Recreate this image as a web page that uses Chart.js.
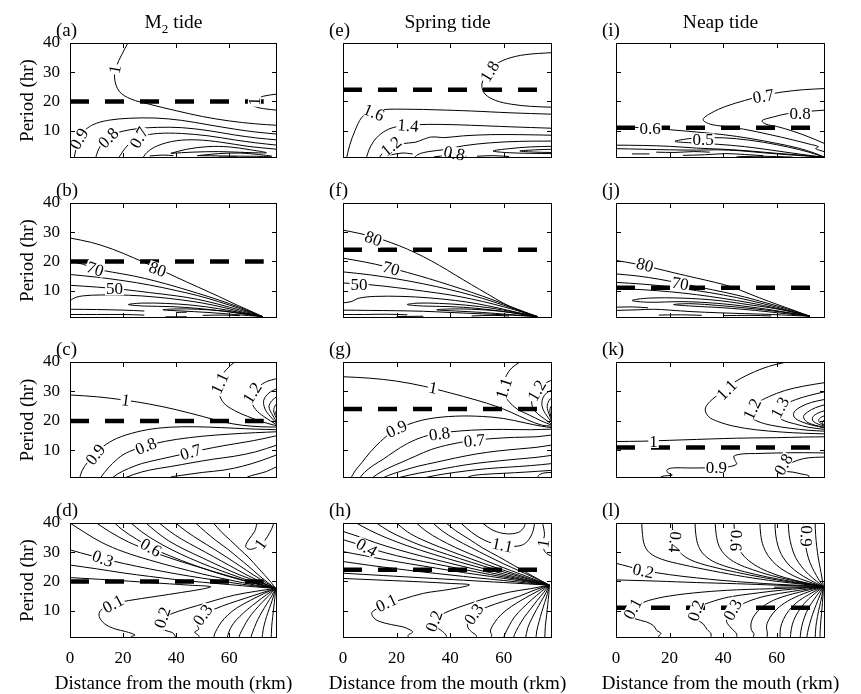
<!DOCTYPE html>
<html>
<head>
<meta charset="utf-8">
<title>Tide contours</title>
<script src="https://cdn.jsdelivr.net/npm/chart.js@4.4.1/dist/chart.umd.min.js"></script>
<style>
  body { margin: 0; background: #fff; }
  #page { position: relative; width: 861px; height: 694px; overflow: hidden; font-family: "Liberation Serif", "Times New Roman", serif; color: #000; }
  #page canvas { position: absolute; left: 0; top: 0; }
  .tag, .head, .xname { position: absolute; line-height: 1; white-space: nowrap; z-index: 2; }
  .tag { font-size: 19px; }
  .head { font-size: 19.5px; transform: translateX(-50%); }
  .xname { font-size: 19px; transform: translateX(-50%); }
  .head sub { font-size: 13px; vertical-align: -5px; line-height: 0; }
</style>
</head>
<body>
<div id="page"></div>
<script>
// panel frames in page pixels
const colLeft = [70, 343, 616];
const colRight = [277, 552, 825];
const rowTop = [43, 203, 362, 523];
const rowBottom = [158, 318, 478, 638];

const tideNames = ['M<sub>2</sub> tide', 'Spring tide', 'Neap tide'];
const panelTags = [['a', 'b', 'c', 'd'], ['e', 'f', 'g', 'h'], ['i', 'j', 'k', 'l']];
const xName = 'Distance from the mouth (rkm)';
const yName = 'Period (hr)';
const dashPeriod = [20, 24, 11];
const dashEndKm = 73;
const xMax = 78, yMin = 0.6, yMax = 40;
const xTickKm = [20, 40, 60];
const yTickHr = [10, 20, 30];

// contour lines: [km, hr] pairs
const contA = [
  [[21.8,40],[19.5,36],[17.5,32],[16.8,28],[18.5,23.5],[23,20.8],[30,19],[40,16.8],[50,14.8],[60,13.3],[70,12.3],[78,11.8]],
  [[78,22.5],[73,21.8],[69.5,20.5],[68,19.5],[69.5,18.3],[73,17.5],[78,17]],
  [[1.5,0],[2.3,4],[3.8,8],[6.5,10.8],[10,12.5],[15,13.6],[22,14.2],[32,14.3],[42,13.5],[52,12],[62,10.5],[70,9.5],[78,8.8]],
  [[9.5,0],[10.5,3],[12.5,6],[15.5,8.3],[20,9.8],[26,10.7],[33,11.1],[42,11],[52,10],[62,8.5],[70,7.5],[78,6.8]],
  [[18,0],[20,3],[23,6],[27,8],[33,9],[42,9],[52,8.2],[62,6.8],[70,5.8],[78,5]],
  [[27,0],[29,2.5],[33,4.8],[40,6.5],[48,6.8],[57,6],[67,4.6],[78,3.6]],
  [[38,2.2],[44,3.6],[52,4.5],[60,4.4],[68,3.4],[74,2.4],[66,2.5],[56,2.8],[46,2.6],[38,2.2]],
  [[48,1.4],[56,2.1],[64,2.3],[71,1.8],[76,1.2],[68,1.2],[58,1.3],[48,1.4]],
  [[30,1.3],[35,1.6],[39,1.4]],
  [[56,0.9],[63,1.0]]
];
const labelsA = [['0.9',3.4,7.2,-60],['0.8',14.5,7.5,-45],['0.7',26,7.6,-60],['1',16.9,31,-80],['1',69.5,20,-88]];

const contB = [
  [[0,28],[8,26.5],[16,24.2],[24,21.2],[32,18],[40,14.6],[48,11.3],[56,8],[63,5],[68,3],[72.5,1.1]],
  [[0,20],[5,19],[9.5,17.5],[16,16.3],[24,15],[32,13.3],[40,11.3],[48,9.1],[56,6.8],[64,4.2],[72.5,1.1]],
  [[0,15.5],[10,14.6],[20,13.4],[30,11.9],[40,10],[48,8.3],[56,6.2],[64,3.8],[72.5,1.1]],
  [[0,11.8],[10,11.2],[20,10.4],[30,9.3],[40,8.2],[48,7],[56,5.3],[64,3.3],[72.5,1.1]],
  [[0,6.5],[2,7.6],[5,8.2],[12,8.5],[22,8.4],[32,7.8],[42,6.8],[50,5.7],[58,4.2],[65,2.6],[72.5,1.1]],
  [[72.5,1.1],[64,2.5],[56,3.8],[46,5],[36,5.6],[27,5.7],[22,5.2],[28,4.7],[38,4.5],[48,3.9],[58,2.9],[66,1.9],[72.5,1.1]],
  [[72.5,1.1],[66,2],[58,3],[48,3.6],[40,3.7],[35,3.4],[42,3],[52,2.5],[62,1.8],[72.5,1.1]],
  [[0,3.6],[10,3.5],[20,3.3],[28,3]],
  [[0,1.8],[10,1.8],[20,1.8],[28,1.6]],
  [[40,2.5],[44,2.6]],
  [[50,1.5],[58,1.6],[64,1.4]],
  [[36,1],[44,1]]
];
const labelsB = [['80',33,17.3,20],['70',9.5,17.4,18],['50',16.8,10.6,0]];

const contC = [
  [[0,28.8],[10,28.2],[21,27],[30,25.7],[40,23.8],[50,21.5],[58,19.6],[65,18.5],[72,18],[78,17.9]],
  [[62,40],[59,37.5],[57,35],[56,32],[56.3,29],[58,26],[62,23.5],[67,21.5],[72,19.8],[78,18.3]],
  [[78,34.4],[74,33.3],[71,31.5],[69,29],[68.5,26.5],[70,23.8],[73,21.5],[78,18.6]],
  [[78,31],[75,29.5],[73,27],[73.5,24],[75.5,21.5],[78,19]],
  [[78,28.3],[76,26.8],[75,24.8],[76,22.5],[78,19.5]],
  [[78,26],[77,24.6],[76.8,23],[78,20.5]],
  [[78,24],[77.5,22.8],[78,21.3]],
  [[3.5,0],[4.5,3],[6.5,5.8],[9,8.5],[12.5,11.3],[17.5,14],[25,16.2],[33,17.5],[42,18],[52,17.9],[62,17.5],[70,17.2],[78,17]],
  [[11,0],[13,2.5],[16,5.5],[20,8.5],[25,10.5],[32,12.3],[40,13.7],[50,14.8],[60,15.5],[70,16],[78,16.3]],
  [[15,0],[18,2],[22,3.8],[27,5.5],[34,7],[42,8.6],[50,10.2],[58,11.6],[66,12.8],[72,13.8],[78,15]],
  [[19,0],[24,1.8],[30,3.3],[38,4.5],[46,5.8],[54,7],[62,8],[70,9.5],[78,11.8]],
  [[37,0],[38,0.9],[42,1.5],[50,2.5],[58,3.3],[65,4.6],[72,6.5],[78,8.5]],
  [[66,0],[67,1],[70,1.8],[74,2.8],[78,4.5]]
];
const labelsC = [['1',21,27,8],['1.1',56.4,32.8,-65],['1.2',68.7,29.5,-58],['0.9',9.6,8.6,-52],['0.8',28.6,11.4,-22],['0.7',45.5,9.4,-18]];

const contD = [
  [[0,21.3],[15,20.5],[30,19.6],[45,18.7],[53,18.2],[50,17.4],[42,16.2],[32,14.8],[22,13.4],[15,12],[11.5,10],[11,8],[13,5.5],[17,3.7],[21,2.8],[24.5,1.6],[23,1],[25,0]],
  [[0,25.6],[10,24.3],[20,22.9],[30,21.7],[40,20.6],[50,19.7],[60,18.9],[70,18.1],[77.5,17.6]],
  [[0,30.8],[8,28.8],[16,27],[25,25.2],[35,23.4],[45,21.8],[55,20.4],[65,19],[72,18.2],[77.5,17.6]],
  [[0,40],[6,36.5],[12,33.3],[20,30.2],[30,27.3],[40,24.8],[50,22.5],[60,20.5],[70,18.7],[77.5,17.6]],
  [[10,40],[15,37],[22,33.5],[30,30.5],[40,27.3],[50,24.5],[60,21.8],[70,19.3],[77.5,17.6]],
  [[16.8,40],[20,37.5],[25,34.5],[30.5,31.6],[38,28.6],[46,25.8],[55,23],[64,20.6],[72,18.7],[77.5,17.6]],
  [[23,40],[27,37],[32,34],[38,31],[45,28],[53,25],[61,22.3],[69,19.8],[77.5,17.6]],
  [[28.6,40],[32.5,37],[37,34],[43,31],[50,28],[57,25],[64,22.2],[71,19.8],[77.5,17.6]],
  [[33.6,40],[37.5,37.2],[42,34.5],[48,31.5],[54,28.5],[60,25.5],[66,22.5],[72,19.8],[77.5,17.6]],
  [[39.8,40],[44,37],[49,34],[54,31.2],[59,28.3],[64,25.3],[69,22.3],[74,19.5],[77.5,17.6]],
  [[47.3,40],[51,37],[55,34],[59.5,31],[63.5,28],[67.5,25],[71,22.2],[74.5,19.6],[77.5,17.6]],
  [[54,40],[57,37],[60.5,34],[64,31],[67.5,28],[70.5,25],[73.5,22],[75.8,19.6],[77.5,17.6]],
  [[70.5,40],[69.5,37],[67.5,34.5],[66.2,32],[67.5,31],[70,31.5],[72.5,33],[74.5,35.5],[76,38],[76.8,40]],
  [[77.5,17.6],[70,16.6],[62,15.3],[55,13.6],[48,11.7],[41,9.8],[36,8],[33,6.2],[33.5,4.5],[35.5,3.3],[38.5,2.5],[39.5,1.5],[40,0]],
  [[77.5,17.6],[72,16],[66,14.2],[60,12.4],[54.5,10.5],[50.5,8.6],[48.5,6.8],[48,5],[48.5,3.6],[47,2.6],[48.5,1.4],[48.5,0]],
  [[77.5,17.6],[73,15.8],[68,13.5],[63,11],[59.5,8.5],[57,6],[55.5,3.8],[54.5,2],[54,0]],
  [[77.5,17.6],[74,15.4],[70.5,13],[67,10.5],[64,8],[61.5,5.5],[60,3],[59,0]],
  [[77.5,17.6],[75,15.2],[72.3,12.7],[69.6,10],[67.3,7.3],[65.5,4.5],[64,1.8],[63.5,0]],
  [[77.5,17.6],[76,15],[74.3,12.5],[72.5,9.8],[70.8,7],[69.5,4.2],[68.5,1.8],[68,0]],
  [[77.5,17.6],[76.7,15],[75.7,12.2],[74.6,9.4],[73.6,6.5],[72.8,3.5],[72.3,0]],
  [[77.5,17.6],[77.2,14.5],[76.8,11.2],[76.4,8],[76,4.5],[75.8,0]]
];
const labelsD = [['0.3',12.4,27.8,20],['0.6',30.5,31.6,30],['1',71.8,32.8,-55],['0.1',16.2,12.3,-28],['0.2',34.8,7.6,-72],['0.3',50,8.5,-55]];

const contE = [
  [[78,36.7],[68,36],[61,34.5],[56,32],[53,28.5],[51.8,25.5],[53,22.5],[57,20.3],[63,19],[70,18.3],[78,18]],
  [[1.2,0],[2.5,5],[4.5,10],[7,14.5],[10,16.3],[15,17.2],[25,17.3],[35,17.1],[48,16.7],[62,16.1],[78,15.6]],
  [[8.5,0],[10,4],[12.5,7.5],[16,10],[20,11.3],[27,12],[37,12.1],[48,11.8],[62,11.3],[78,10.8]],
  [[13,0],[15,2.5],[18,4.5],[22,5.5],[27,6],[30,7],[33,7.8],[38,7.6],[45,8.2],[55,8.6],[66,8.6],[78,8.4]],
  [[26,0],[28,1.8],[32,2.8],[38,3.5],[45,4.8],[55,5.8],[66,6.3],[78,6.4]],
  [[78,4.6],[70,4.4],[62,3.8],[56,3],[62,2.4],[70,2.2],[78,2.1]],
  [[78,3.6],[72,3.4],[66,3],[72,2.6],[78,2.5]],
  [[17,1.5],[22,2.3],[26,2]],
  [[34,1],[40,1.5],[46,1.2]],
  [[50,1.2],[56,1.4],[62,1.1]]
];
const labelsE = [['1.8',54.8,30.3,-58],['1.6',11.5,16.2,22],['1.4',24.3,11.7,5],['1.2',18,4.6,-40],['0.8',41.5,2.2,12]];

const contF = [
  [[0,30.7],[6,29.6],[12,28.2],[18,26.4],[24,24.2],[30,21.6],[36,18.6],[42,15.3],[48,12],[54,8.8],[60,5.6],[66,3],[72.5,1.1]],
  [[0,21.1],[8,19.8],[16,18.2],[24,16.2],[32,14.1],[40,11.8],[48,9.4],[56,6.8],[64,4],[72.5,1.1]],
  [[0,16.4],[10,15.4],[20,14],[30,12.3],[40,10.3],[48,8.4],[56,6.2],[64,3.7],[72.5,1.1]],
  [[0,12.6],[10,12],[20,11],[30,9.8],[40,8.5],[48,7.1],[56,5.4],[64,3.4],[72.5,1.1]],
  [[0,5.8],[3,6.2],[6,7.4],[12,8],[22,8],[32,7.5],[42,6.6],[50,5.5],[58,4],[65,2.5],[72.5,1.1]],
  [[72.5,1.1],[64,2.6],[56,3.9],[46,5],[36,5.6],[28,5.7],[24,5.2],[30,4.7],[40,4.5],[50,3.9],[60,2.8],[72.5,1.1]],
  [[72.5,1.1],[66,2],[58,3],[48,3.6],[40,3.7],[35,3.4],[42,3],[52,2.5],[62,1.8],[72.5,1.1]],
  [[0,3.3],[10,3.2],[20,3.1],[30,2.9],[40,2.5],[50,2.1],[60,1.7],[72.5,1.1]],
  [[0,1.8],[8,1.8],[16,1.9],[24,1.7]],
  [[20,1.1],[30,1.2]],
  [[48,1.3],[56,1.5],[62,1.3]]
];
const labelsF = [['80',11.3,27.8,20],['70',18,17.6,15],['50',6,12.1,0]];

const contG = [
  [[0,35],[10,34.5],[20,33.5],[30,31.8],[40,29.5],[50,27],[57,25],[63,22.8],[69,20.3],[74,18.6],[78,18.2]],
  [[66,40],[63,38],[61,35.5],[60,32.5],[60.2,29],[62,26.5],[65,24],[69.5,22],[74,20],[78,18.5]],
  [[78,33.9],[75,32.5],[72.5,30.5],[70.8,28],[70.5,25.5],[72,23],[75,20.8],[78,18.8]],
  [[78,30.5],[76,29.5],[74.5,27.5],[74.3,25],[75.5,22.5],[78,19.3]],
  [[78,28],[76.8,26.8],[76.2,24.8],[76.8,22.5],[78,19.7]],
  [[78,25.5],[77.3,24.2],[77.3,22.5],[78,20.3]],
  [[78,23.5],[77.7,22.3],[78,21]],
  [[2.6,0],[4.5,3],[7,5.8],[10,9.2],[14,13],[19,16.6],[25,19],[32,20.7],[42,21.6],[52,21.5],[60,20.8],[68,19.3],[74,18.2],[78,17.7]],
  [[5.7,0],[8,2.5],[11.5,5],[15,7],[19,9.5],[24,12.3],[30,14.6],[36,15.8],[44,16.6],[52,17],[60,17.1],[70,17],[78,17.2]],
  [[10,0],[13,2],[17,4],[22,6],[27,8],[33,10.3],[40,12],[48,13.3],[56,14],[64,14.4],[72,14.6],[78,15.2]],
  [[13.5,0],[17,1.5],[22,3],[28,4.6],[35,6],[42,7.4],[50,8.8],[58,9.8],[66,10.5],[72,11],[78,11.8]],
  [[17.5,0],[22,1],[28,2.2],[35,3.3],[42,4.5],[50,5.6],[58,6.4],[66,7.1],[72,7.6],[78,8.3]],
  [[27.5,0],[32,1],[38,2],[46,3],[54,3.8],[62,4.3],[70,4.8],[78,5.5]],
  [[45,0],[47.5,1.2],[52,1.8],[60,2.2],[68,2.6],[78,3.2]],
  [[72.6,0],[73,1.5],[75,2.3],[78,2.5]]
];
const labelsG = [['1',33.6,31.2,10],['1.1',60,31,-72],['1.2',72.3,30.3,-60],['0.9',20,17.3,-25],['0.8',36,15.6,-8],['0.7',49,13.3,-5]];

const contH = [
  [[0,21],[15,20.4],[30,19.8],[40,19.3],[47.2,18.8],[40,17.3],[30,15.9],[22,13.8],[15,11.8],[11.5,10],[10.7,9],[11.5,7.5],[13.5,6.3],[18,5.2],[22.4,4.4],[25,3.4],[26,2.6],[24.3,1.5],[25,0]],
  [[0,22.8],[15,22],[30,21.2],[45,20.4],[60,19.6],[77,18.7]],
  [[0,26.8],[10,25.5],[20,24.3],[30,23.2],[40,22.2],[50,21.2],[60,20.3],[70,19.3],[77,18.7]],
  [[0,30.2],[8,28.8],[16,27.4],[25,26],[35,24.5],[45,23],[55,21.7],[65,20.3],[77,18.7]],
  [[0,34.3],[6,32.6],[12,30.8],[20,28.8],[30,26.8],[40,25],[50,23.2],[60,21.5],[70,19.9],[77,18.7]],
  [[0,37.1],[6,35.3],[12,33.3],[20,31],[30,28.5],[40,26.2],[50,24],[60,22],[70,20],[77,18.7]],
  [[5,40],[10,37.5],[16,35],[24,32.2],[34,29.2],[44,26.5],[54,24],[64,21.6],[72,19.8],[77,18.7]],
  [[12.5,40],[17,37.3],[23,34.6],[30,32],[39,29.2],[48,26.5],[57,24],[66,21.6],[73,19.8],[77,18.7]],
  [[20,40],[24,37],[29,34.5],[36,31.8],[44,29],[52,26.3],[60,23.8],[68,21.4],[74,19.6],[77,18.7]],
  [[27.4,40],[31,37.2],[36,34.4],[42,31.6],[49,28.8],[56,26.1],[63,23.6],[70,21.2],[77,18.7]],
  [[33.6,40],[37,37.3],[42,34.4],[48,31.5],[54,28.7],[60,26],[66,23.5],[72,21],[77,18.7]],
  [[38.5,40],[42,37.4],[47,34.5],[52,31.5],[58,28.5],[63.5,25.6],[68.5,23],[73,20.7],[77,18.7]],
  [[44,40],[48,36.8],[53,34],[58,32.6],[63,32],[67,32.5],[69.5,34.5],[71,37.5],[71.5,40]],
  [[52,40],[56,37.5],[61,36.3],[65.5,36.8],[67.5,38.5],[68,40]],
  [[74.5,40],[75.2,36],[74.5,33],[75.5,30],[78,28.5]],
  [[77,18.7],[70,17.5],[62,16.3],[54,14.4],[46,12],[40,10],[35.5,8],[33.6,6.7],[34,4.8],[36.5,3.3],[38.5,1.5],[38.5,0]],
  [[77,18.7],[72,17.2],[66,15],[60,13.2],[54,11.3],[50,9.5],[47,7.2],[46.5,4.5],[48,2.7],[49.7,1.5],[49.7,0]],
  [[77,18.7],[73,16.8],[68,14.3],[63,11.5],[59,8.6],[56.5,5.8],[55,3],[55.5,1.5],[54.5,0]],
  [[77,18.7],[74,16.5],[70.5,13.8],[67,10.8],[64,7.8],[62,4.8],[60.5,2],[59.6,0]],
  [[77,18.7],[75,16.3],[72.5,13.5],[70,10.5],[67.5,7.5],[65.5,4.5],[64,1.8],[63.5,0]],
  [[77,18.7],[75.7,16],[74,13.2],[72.2,10.3],[70.5,7.3],[69,4.2],[68,0]],
  [[77,18.7],[76.3,15.8],[75.3,12.8],[74.2,9.6],[73.2,6.3],[72.3,3],[72,0]],
  [[77,18.7],[76.8,15.5],[76.4,12],[76,8.5],[75.5,4.5],[75.3,0]]
];
const labelsH = [['0.4',8.8,31.6,30],['1.1',59.5,32.4,12],['1',74.8,33,-80],['0.1',16.2,12.6,-25],['0.2',34,6.4,-70],['0.3',48.8,8.8,-55]];

const contI = [
  [[78,24.4],[70,24],[62,23.2],[55,22],[48,20.3],[41,18.3],[35.5,16],[32.5,13.8],[34.5,12.4],[38,11.7],[47.5,10.5],[57.5,8.6],[66,6.8],[72,5.4],[75.5,4.5],[74.5,3.8],[78,2.7]],
  [[78,17],[72,16.6],[64,15.8],[58.5,14.6],[54.5,13.4],[56,12.2],[60,11.4],[66,9.8],[72,7.8],[78,5.5]],
  [[0,11.3],[10,11],[20,10.3],[30,9.5],[40,8.6],[50,7.3],[60,5.6],[68,4],[74,2.3],[78,0.8]],
  [[78,0.8],[72,2.6],[65,4.2],[55,6],[45,7.2],[36,7.6],[28,7.3],[22,6.3],[28,5.8],[38,5.3],[48,4.5],[58,3.3],[68,2],[78,0.8]],
  [[0,5],[10,4.9],[20,4.6],[30,4],[40,3.6],[50,3],[60,2.2],[70,1.5],[78,0.8]],
  [[0,3.8],[10,3.6],[20,3.4],[30,3.3],[38,3.4],[46,3.1],[56,2.3],[66,1.6],[78,0.8]],
  [[6,2],[12.5,2]],
  [[15,2.6],[22,2.5],[29,2.8],[35,2.6]],
  [[25,1.5],[33,1.7],[41,2.1],[48,1.8],[55,1.4]],
  [[45,1],[52,1.2],[60,1.1],[66,0.9]]
];
const labelsI = [['0.7',55,21.8,-10],['0.8',68.7,16,0],['0.6',12.7,10.8,0],['0.5',32.5,6.8,0]];

const contJ = [
  [[0,20.3],[7,19.2],[14,17.8],[22,16],[30,14.3],[37,12.8],[43,11.3],[50,8.8],[57,6.3],[64,4],[72.4,1.2]],
  [[0,15.7],[8,15],[16,13.9],[24,12.5],[32,11],[40,9.5],[48,7.8],[56,5.8],[64,3.7],[72.4,1.2]],
  [[0,12.8],[10,12.2],[20,11.3],[30,10],[40,8.5],[50,6.6],[60,4.3],[72.4,1.2]],
  [[0,11],[3,10.6],[10,10.3],[20,9.6],[30,8.6],[40,7.3],[50,5.8],[60,3.9],[72.4,1.2]],
  [[72.4,1.2],[62,3.4],[50,5.1],[38,6.6],[25,7.4],[12,7.4],[6,6.6],[12,6],[25,6.2],[38,5.6],[50,4.4],[62,2.8],[72.4,1.2]],
  [[72.4,1.2],[62,2.6],[50,3.9],[38,4.9],[28,5.5],[21.5,5.2],[28,4.7],[40,4.1],[52,3.2],[62,2.2],[72.4,1.2]],
  [[0,4.3],[6,4.4],[12,4.1]],
  [[0,3.2],[8,3.4],[14,3.6],[20,3.3],[28,2.8],[38,2.4],[48,2.1],[58,1.8],[72.4,1.2]],
  [[16,1.6],[24,1.7],[32,1.5]],
  [[40,1.4],[50,1.5],[58,1.3]]
];
const labelsJ = [['80',10.8,18.8,15],['70',24,12.4,10]];

const contK = [
  [[63.7,40],[57,38.5],[50,36],[44,33],[39,29.5],[35,26.5],[33.3,24],[34.5,21.5],[38,19.8],[44,18.2],[52,17],[62,16.2],[70,15.8],[78,15.6]],
  [[78,33],[70,31.8],[63,30.3],[57,28.2],[52.5,26],[49.5,23.5],[50,21.5],[53,19.8],[58,18.5],[65,17.5],[72,16.8],[78,16.5]],
  [[78,29.9],[72,28.6],[67,27.2],[63,25.5],[60.5,23.5],[60.5,21.5],[63,20],[67.5,18.8],[72,17.8],[78,17.1]],
  [[78,27.3],[73,26.3],[69,24.8],[66.5,23],[66.5,21.3],[69,19.8],[73,18.6],[78,17.6]],
  [[78,25.5],[74.5,24.5],[71.5,23],[70,21.5],[71,19.8],[74,18.6],[78,17.8]],
  [[78,23.5],[75.5,22.7],[73.5,21.4],[73.5,20],[75.5,18.9],[78,18.1]],
  [[78,21.8],[76.5,21.2],[75.6,20.2],[76.5,19.1],[78,18.4]],
  [[78,20.5],[77.2,19.9],[77,19.2],[78,18.6]],
  [[0,13],[10,13.1],[20,13.4],[30,13.7],[40,14],[50,14.2],[60,14.3],[70,14.5],[78,14.6]],
  [[78,9.1],[70,9.2],[60,9.1],[52,8.9],[47.5,8.8],[44,8],[44.5,6.5],[45,5.3],[42,4.4],[36,4.1],[28,4],[21,4],[19,3.3],[19.5,2.3],[21,1.6],[17,1.1],[16,0]],
  [[78,7.7],[74,7.6],[70,7.2],[66,6],[63.5,4.9],[61,3.6],[62,3],[66,2.6],[69,2],[72,1.3],[71,0]]
];
const labelsK = [['1.1',41.3,30.5,-45],['1.2',50.8,24,-65],['1.3',61.2,24.5,-62],['1',14,13,0],['0.9',37.5,4.1,0],['0.8',62.5,5.2,-60]];

const contL = [
  [[9.6,40],[9.9,36],[10.6,32.5],[12.5,29.8],[17,27.6],[25,25.7],[36,23.6],[48,21.6],[60,20],[70,19],[77.4,18.2]],
  [[21,40],[21.3,36],[22.2,32.5],[24,29.8],[28,27.3],[35,25.2],[45,23.1],[55,21.3],[65,19.8],[77.4,18.2]],
  [[29.5,40],[29.8,36],[30.8,32],[33,29],[37,26.5],[44,24.3],[52,22.4],[61,20.7],[70,19.3],[77.4,18.2]],
  [[37,40],[37.4,36],[38.5,32],[41,28.8],[45,26.2],[51,24],[58,22],[66,20.3],[77.4,18.2]],
  [[44,40],[44.4,36],[45.5,32],[47.8,28.6],[51.5,25.8],[56.5,23.4],[63,21.3],[70,19.7],[77.4,18.2]],
  [[53.7,40],[54,36],[55,32],[57,28.5],[60,25.5],[64,23],[69,20.8],[77.4,18.2]],
  [[59.3,40],[59.6,36],[60.5,32],[62.3,28.3],[65,25.2],[68.5,22.6],[72.5,20.4],[77.4,18.2]],
  [[64.3,40],[64.6,36],[65.5,32],[67,28.2],[69.3,25],[72,22.3],[74.8,20.1],[77.4,18.2]],
  [[70,40],[70.2,36],[70.8,32],[71.8,28],[73.2,24.8],[74.8,22],[76.2,19.8],[77.4,18.2]],
  [[74.3,40],[74.5,36],[74.9,32],[75.5,28],[76.2,24.5],[76.8,21.5],[77.4,18.2]],
  [[0,26.2],[5,25],[10,23.8],[20,22.3],[30,21.2],[40,20.3],[50,19.6],[60,19],[70,18.6],[77.4,18.2]],
  [[0,20.5],[15,20.1],[30,19.6],[45,19.2],[60,18.7],[77.4,18.2]],
  [[59,18],[68,18.1],[77.4,18.2]],
  [[77.4,18.2],[62,17.6],[45,17.1],[32,16.3],[20,15],[12,13.4],[8,11.8],[5.5,10],[4.6,8.5],[7,7.2],[11.4,6.1],[14,4.8],[15.2,3.2],[16.8,2.2],[16,1.3],[16.4,0]],
  [[77.4,18.2],[62,17],[50,15.7],[42,14.6],[35,12.8],[30,10.7],[28.8,8.5],[30,7],[32.5,5.5],[34,3.5],[35.5,2],[35,0]],
  [[77.4,18.2],[66,16.6],[56,15],[49,13],[44.5,10.7],[42,8.5],[41.3,6.2],[43,4],[45,2],[45,0]],
  [[77.4,18.2],[68,16.2],[60,14],[55,11.5],[52,8.8],[50.5,6],[50.5,3.5],[51.5,1.8],[50.6,0]],
  [[77.4,18.2],[70,15.8],[64,13.2],[60,10.5],[57.5,7.6],[56.2,4.8],[56.5,2],[56.2,0]],
  [[77.4,18.2],[72,15.5],[67.5,12.8],[64.5,10],[62.5,7],[61.4,4],[61.2,0]],
  [[77.4,18.2],[73.5,15.3],[70.3,12.5],[68,9.6],[66.3,6.6],[65.4,3.5],[65,0]],
  [[77.4,18.2],[75,15.2],[72.8,12.3],[71,9.3],[69.8,6.2],[69,3],[68.7,0]],
  [[77.4,18.2],[76,15],[74.7,12],[73.4,8.8],[72.3,5.5],[71.5,2.5],[71.1,0]],
  [[77.4,18.2],[76.8,14.8],[76,11.5],[75.2,8],[74.6,4.5],[74.3,0]],
  [[77.4,18.2],[77.2,14.5],[76.9,11],[76.5,7],[76.2,3],[76.1,0]]
];
const labelsL = [['0.4',22,33.5,95],['0.6',44.8,34,92],['0.9',71,35.5,92],['0.2',10.2,23.6,12],['0.1',6.2,10.6,-62],['0.2',29.8,10,-72],['0.3',43.5,10.3,-62]];

// [column][row]
const grid = [
  [[contA, labelsA], [contB, labelsB], [contC, labelsC], [contD, labelsD]],
  [[contE, labelsE], [contF, labelsF], [contG, labelsG], [contH, labelsH]],
  [[contI, labelsI], [contJ, labelsJ], [contK, labelsK], [contL, labelsL]]
];

const serif = '"Liberation Serif", "Times New Roman", serif';

// inline contour labels, drawn over a white patch so the line looks broken
const contourLabels = {
  id: 'contourLabels',
  afterDatasetsDraw(chart, args, opts) {
    const ctx = chart.ctx, x = chart.scales.x, y = chart.scales.y;
    ctx.save();
    ctx.font = '17px ' + serif;
    ctx.textAlign = 'center';
    ctx.textBaseline = 'middle';
    for (const [txt, vx, vy, deg] of opts.items) {
      ctx.save();
      ctx.translate(x.getPixelForValue(vx), y.getPixelForValue(vy));
      ctx.rotate(deg * Math.PI / 180);
      const w = ctx.measureText(txt).width;
      ctx.fillStyle = '#fff';
      ctx.fillRect(-w / 2 - 1, -6.5, w + 2, 13);
      ctx.fillStyle = '#000';
      ctx.fillText(txt, 0, 1);
      ctx.restore();
    }
    ctx.restore();
  }
};

// box around the plot with inward ticks on all sides
const frame = {
  id: 'frame',
  afterDraw(chart) {
    const {ctx, chartArea: a} = chart;
    const x = chart.scales.x, y = chart.scales.y;
    ctx.save();
    ctx.strokeStyle = '#000';
    ctx.lineWidth = 1;
    ctx.strokeRect(a.left + 0.5, a.top + 0.5, a.right - a.left - 1, a.bottom - a.top - 1);
    ctx.beginPath();
    xTickKm.forEach(v => {
      const px = Math.round(x.getPixelForValue(v)) + 0.5;
      ctx.moveTo(px, a.bottom); ctx.lineTo(px, a.bottom - 5);
      ctx.moveTo(px, a.top); ctx.lineTo(px, a.top + 5);
    });
    yTickHr.forEach(v => {
      const py = Math.round(y.getPixelForValue(v)) + 0.5;
      ctx.moveTo(a.left, py); ctx.lineTo(a.left + 5, py);
      ctx.moveTo(a.right, py); ctx.lineTo(a.right - 5, py);
    });
    ctx.stroke();
    ctx.restore();
  }
};

const page = document.getElementById('page');

function makePanel(col, row) {
  const [lines, labels] = grid[col][row];
  const cv = document.createElement('canvas');
  cv.width = 861;
  cv.height = 694;
  page.appendChild(cv);
  const showY = col === 0, showX = row === 3;
  const xAxisH = 694 - rowBottom[row];
  const yAxisW = colLeft[0] - 17;

  const datasets = lines.map(pts => ({
    data: pts.map(([x, y]) => ({x, y})),
    showLine: true,
    borderColor: '#000',
    borderWidth: 1,
    pointRadius: 0,
    tension: 0.35
  }));
  datasets.push({
    data: [{x: 0, y: dashPeriod[col]}, {x: dashEndKm, y: dashPeriod[col]}],
    showLine: true,
    borderColor: '#000',
    borderWidth: 4.5,
    borderDash: [19, 16],
    borderCapStyle: 'butt',
    pointRadius: 0
  });

  new Chart(cv, {
    type: 'scatter',
    data: {datasets},
    options: {
      responsive: false,
      animation: false,
      devicePixelRatio: 1,
      events: [],
      layout: {
        padding: {
          left: showY ? 17 : colLeft[col],
          right: 861 - colRight[col],
          top: rowTop[row],
          bottom: showX ? 0 : 694 - rowBottom[row]
        }
      },
      plugins: {
        legend: {display: false},
        tooltip: {enabled: false},
        contourLabels: {items: labels}
      },
      scales: {
        x: {
          type: 'linear', min: 0, max: xMax, display: showX,
          afterFit: s => { if (showX) s.height = xAxisH; },
          grid: {display: false, drawTicks: false},
          border: {display: false},
          ticks: {stepSize: 20, includeBounds: false, padding: 10, maxRotation: 0, color: '#000', font: {family: serif, size: 17}},
          title: {display: false}
        },
        y: {
          type: 'linear', min: yMin, max: yMax, display: showY,
          afterFit: s => { if (showY) s.width = yAxisW; },
          grid: {display: false, drawTicks: false},
          border: {display: false},
          ticks: {stepSize: 10, includeBounds: false, padding: 10, color: '#000', font: {family: serif, size: 17}},
          title: {display: true, text: yName, color: '#000', font: {family: serif, size: 19}, padding: {top: 0, bottom: 0}}
        }
      }
    },
    plugins: [contourLabels, frame]
  });
}

for (let c = 0; c < 3; c++) {
  const mid = (colLeft[c] + colRight[c]) / 2;
  const h = document.createElement('div');
  h.className = 'head';
  h.innerHTML = tideNames[c];
  h.style.left = mid + 'px';
  h.style.top = '12px';
  page.appendChild(h);
  const xn = document.createElement('div');
  xn.className = 'xname';
  xn.textContent = xName;
  xn.style.left = mid + 'px';
  xn.style.top = '673px';
  page.appendChild(xn);
  for (let r = 0; r < 4; r++) {
    const t = document.createElement('div');
    t.className = 'tag';
    t.textContent = '(' + panelTags[c][r] + ')';
    t.style.left = colLeft[c] - 14 + 'px';
    t.style.top = rowTop[r] - 23 + 'px';
    page.appendChild(t);
    makePanel(c, r);
  }
}
</script>
</body>
</html>
